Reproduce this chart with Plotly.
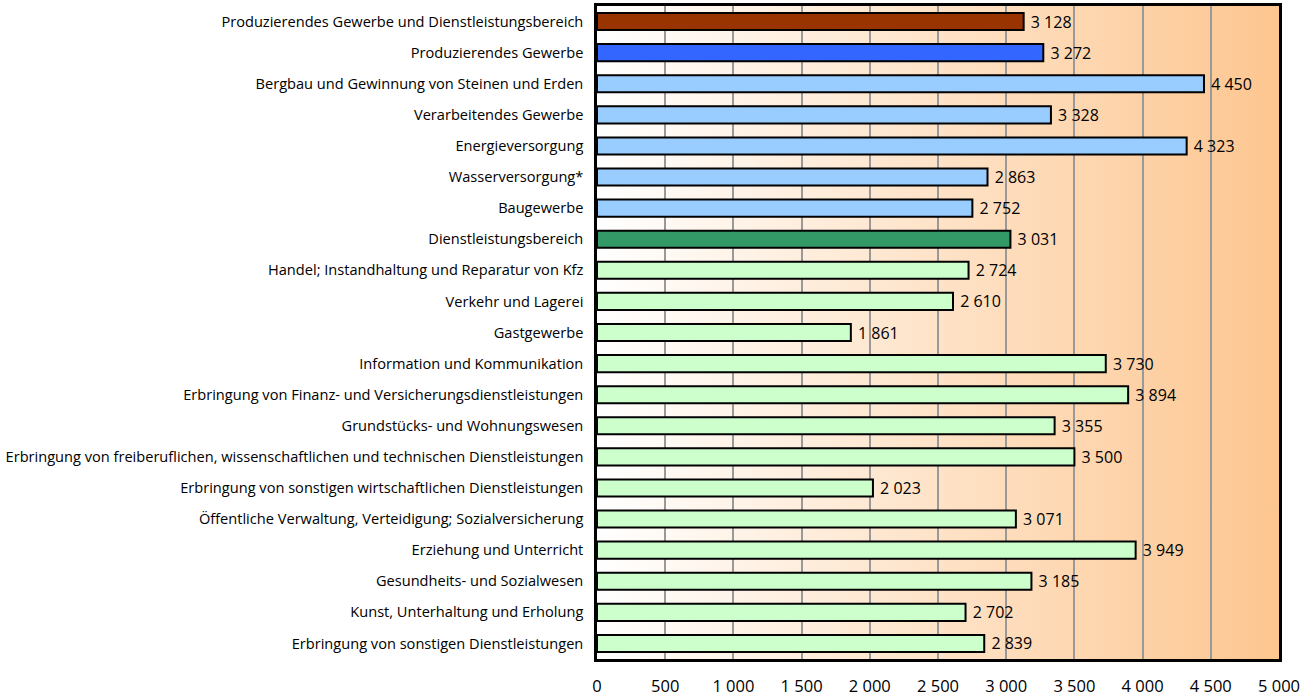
import plotly.graph_objects as go

categories = [
    "Produzierendes Gewerbe und Dienstleistungsbereich",
    "Produzierendes Gewerbe",
    "Bergbau und Gewinnung von Steinen und Erden",
    "Verarbeitendes Gewerbe",
    "Energieversorgung",
    "Wasserversorgung*",
    "Baugewerbe",
    "Dienstleistungsbereich",
    "Handel; Instandhaltung und Reparatur von Kfz",
    "Verkehr und Lagerei",
    "Gastgewerbe",
    "Information und Kommunikation",
    "Erbringung von Finanz- und Versicherungsdienstleistungen",
    "Grundstücks- und Wohnungswesen",
    "Erbringung von freiberuflichen, wissenschaftlichen und technischen Dienstleistungen",
    "Erbringung von sonstigen wirtschaftlichen Dienstleistungen",
    "Öffentliche Verwaltung, Verteidigung; Sozialversicherung",
    "Erziehung und Unterricht",
    "Gesundheits- und Sozialwesen",
    "Kunst, Unterhaltung und Erholung",
    "Erbringung von sonstigen Dienstleistungen",
]
values = [3128, 3272, 4450, 3328, 4323, 2863, 2752, 3031, 2724, 2610, 1861,
          3730, 3894, 3355, 3500, 2023, 3071, 3949, 3185, 2702, 2839]
groups = ["total", "prod", "prod_sub", "prod_sub", "prod_sub", "prod_sub", "prod_sub",
          "dienst", "dienst_sub", "dienst_sub", "dienst_sub", "dienst_sub", "dienst_sub",
          "dienst_sub", "dienst_sub", "dienst_sub", "dienst_sub", "dienst_sub",
          "dienst_sub", "dienst_sub", "dienst_sub"]
tick_vals = [0, 500, 1000, 1500, 2000, 2500, 3000, 3500, 4000, 4500, 5000]

group_colors = {
    "total": "#993300",
    "prod": "#3366FF",
    "prod_sub": "#99CCFF",
    "dienst": "#339966",
    "dienst_sub": "#CCFFCC",
}


def fmt(v):
    return f"{v:,}".replace(",", " ")


colors = [group_colors[g] for g in groups]

fig = go.Figure()
fig.add_trace(go.Bar(
    y=categories,
    x=values,
    orientation="h",
    marker=dict(color=colors, line=dict(color="black", width=2)),
    width=0.55,
    text=["\u00a0" + fmt(v) for v in values],
    textposition="outside",
    constraintext="none",
    textfont=dict(size=16, color="black", family="Open Sans"),
    cliponaxis=False,
    hoverinfo="x+y",
))

svg = ("data:image/svg+xml;utf8,"
       "<svg xmlns='http://www.w3.org/2000/svg' width='100' height='100' preserveAspectRatio='none'>"
       "<defs><linearGradient id='g' x1='0' y1='0' x2='1' y2='0'>"
       "<stop offset='0' stop-color='%23FFFFFF'/>"
       "<stop offset='1' stop-color='%23FDC690'/>"
       "</linearGradient></defs>"
       "<rect width='100' height='100' fill='url(%23g)'/></svg>")

fig.add_layout_image(dict(
    source=svg, xref="paper", yref="paper", x=0, y=1, sizex=1, sizey=1,
    sizing="stretch", layer="below", xanchor="left", yanchor="top",
))

fig.update_layout(
    width=1313, height=697,
    margin=dict(l=597, r=34, t=6, b=38),
    paper_bgcolor="white",
    plot_bgcolor="rgba(0,0,0,0)",
    showlegend=False,
    bargap=0.45,
    font=dict(family="Open Sans", size=14, color="black"),
)
fig.update_xaxes(
    range=[0, 5000],
    tickvals=tick_vals,
    ticktext=[fmt(v) for v in tick_vals],
    showgrid=True, gridcolor="#999999", gridwidth=2,
    showline=True, linecolor="black", linewidth=2.5, mirror=True,
    ticks="outside", ticklen=10, tickcolor="rgba(0,0,0,0)",
    tickfont=dict(size=16.5),
    zeroline=False,
    fixedrange=True,
    automargin=False,
)
fig.update_yaxes(
    autorange="reversed",
    showline=True, linecolor="black", linewidth=2.5, mirror=True,
    ticks="outside", ticklen=8, tickcolor="rgba(0,0,0,0)",
    tickfont=dict(size=14.6),
    fixedrange=True,
    automargin=False,
)

fig.write_html("out.html", config={"displayModeBar": False},
               post_script="document.body.style.margin='0';document.body.style.overflow='hidden';")
